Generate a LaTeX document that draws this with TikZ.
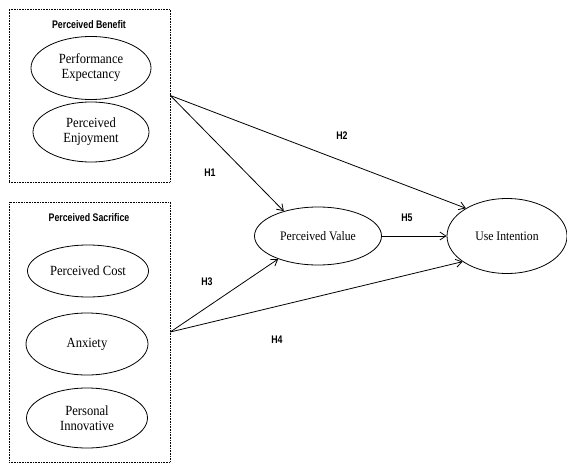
\documentclass[tikz,border=0pt]{standalone}
\usepackage{fontspec}
\setmainfont{Liberation Serif}
\newfontfamily\ovalfont[FakeStretch=0.9]{Liberation Serif}
\newfontfamily\tagfont[FakeStretch=0.8]{Liberation Sans}
\usetikzlibrary{arrows.meta,shapes.geometric}

\tikzset{
  group/.style={draw,densely dotted,line width=0.6pt,rectangle,inner sep=0pt},
  title/.style={font=\tagfont\bfseries\fontsize{11}{13}\selectfont},
  oval/.style={draw,ellipse,line width=0.8pt,inner sep=0pt,align=center,font=\ovalfont\fontsize{14}{15}\selectfont},
  hyp/.style={font=\tagfont\bfseries\fontsize{11}{13}\selectfont},
  link/.style={-{Straight Barb[length=6pt,width=8pt]},line width=0.8pt}
}

\begin{document}
\begin{tikzpicture}[x=1pt,y=-1pt]
  \useasboundingbox (0,0) rectangle (567,465);

  \node[group,minimum width=161pt,minimum height=173pt] (benefit) at (89.5,95.5) {};
  \node[title] (benefittitle) at (89,25) {Perceived Benefit};
  \node[oval,minimum width=120pt,minimum height=63pt] (perf) at (91,68) {Performance\\Expectancy};
  \node[oval,minimum width=116pt,minimum height=60pt] (enjoy) at (91,132) {Perceived\\Enjoyment};

  \node[group,minimum width=161pt,minimum height=260pt] (sacrifice) at (89.5,332) {};
  \node[title] (sacrificetitle) at (89,218) {Perceived Sacrifice};
  \node[oval,minimum width=121pt,minimum height=52pt] (cost) at (88,271) {Perceived Cost};
  \node[oval,minimum width=122pt,minimum height=62pt] (anxiety) at (87,344) {Anxiety};
  \node[oval,minimum width=121pt,minimum height=60pt] (innov) at (87,418) {Personal\\Innovative};

  \node[oval,minimum width=127pt,minimum height=58pt,font=\ovalfont\fontsize{13}{15}\selectfont] (value) at (318,236) {Perceived Value};
  \node[oval,minimum width=120pt,minimum height=75pt,font=\ovalfont\fontsize{13}{15}\selectfont] (use) at (507,236) {Use Intention};

  \draw[link] (benefit.east) -- (value.144);
  \draw[link] (benefit.east) -- (use.146);
  \draw[link] (sacrifice.east) -- (value.210);
  \draw[link] (sacrifice.east) -- (use.210);
  \draw[link] (value) -- (use);

  \node[hyp] (h1) at (210,173) {H1};
  \node[hyp] (h2) at (342,136) {H2};
  \node[hyp] (h3) at (207,282) {H3};
  \node[hyp] (h4) at (277,340) {H4};
  \node[hyp] (h5) at (407,218) {H5};
\end{tikzpicture}
\end{document}
